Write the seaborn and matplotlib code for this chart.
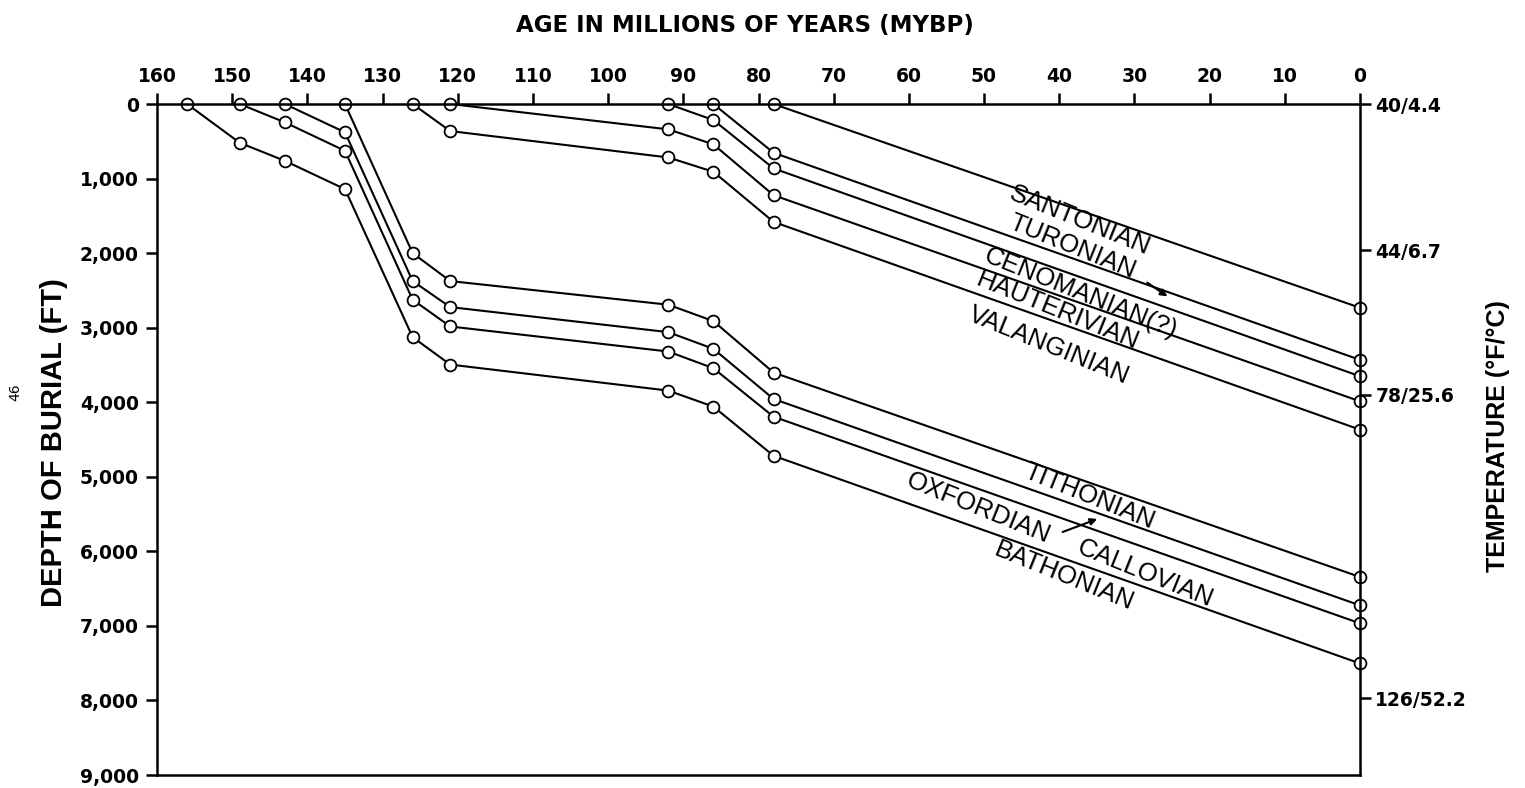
import matplotlib
matplotlib.use("Agg")
import matplotlib.pyplot as plt
import seaborn as sns
import pandas as pd

# burial history, age (MYBP) vs depth (ft) for each stage
stage_names = ["SANTONIAN", "TURONIAN", "CENOMANIAN(?)", "HAUTERIVIAN", "VALANGINIAN",
               "TITHONIAN", "OXFORDIAN", "CALLOVIAN", "BATHONIAN"]

santonian_age = [78, 0]
santonian_depth = [0, 2733]
turonian_age = [86, 78, 0]
turonian_depth = [0, 654, 3432]
cenomanian_age = [92, 86, 78, 0]
cenomanian_depth = [0, 215, 864, 3652]
hauterivian_age = [121, 92, 86, 78, 0]
hauterivian_depth = [0, 340, 541, 1223, 3988]
valanginian_age = [126, 121, 92, 86, 78, 0]
valanginian_depth = [0, 363, 717, 909, 1581, 4368]

tithonian_age = [135, 126, 121, 92, 86, 78, 0]
tithonian_depth = [0, 2000, 2375, 2692, 2912, 3602, 6344]
oxfordian_age = [143, 135, 126, 121, 92, 86, 78, 0]
oxfordian_depth = [0, 380, 2375, 2724, 3060, 3284, 3956, 6725]
callovian_age = [149, 143, 135, 126, 121, 92, 86, 78, 0]
callovian_depth = [0, 246, 628, 2625, 2984, 3320, 3544, 4194, 6966]
bathonian_age = [156, 149, 143, 135, 126, 121, 92, 86, 78, 0]
bathonian_depth = [0, 520, 762, 1142, 3127, 3495, 3844, 4059, 4718, 7504]

all_ages = [santonian_age, turonian_age, cenomanian_age, hauterivian_age, valanginian_age,
            tithonian_age, oxfordian_age, callovian_age, bathonian_age]
all_depths = [santonian_depth, turonian_depth, cenomanian_depth, hauterivian_depth,
              valanginian_depth, tithonian_depth, oxfordian_depth, callovian_depth,
              bathonian_depth]

age_ticks = list(range(160, -1, -10))
depth_ticks = list(range(0, 9001, 1000))
depth_labels = ["0"] + [f"{d:,}" for d in depth_ticks[1:]]
temp_ticks = [0, 1960, 3900, 7970]
temp_labels = ["40/4.4", "44/6.7", "78/25.6", "126/52.2"]

# label anchors (age, depth) for the stage names
label_age = [37.2, 38.2, 37.1, 40.2, 41.4, 36.0, 50.8, 28.6, 39.4]
label_depth = [1560, 1918, 2535, 2776, 3246, 5271, 5419, 6304, 6331]

rows = []
for name, ages, depths in zip(stage_names, all_ages, all_depths):
    for a, d in zip(ages, depths):
        rows.append({"stage": name, "age": a, "depth": d})
df = pd.DataFrame(rows)

sns.set_style("ticks")
plt.rcParams.update({"text.color": "black", "axes.labelcolor": "black",
                     "xtick.color": "black", "ytick.color": "black"})
fig = plt.figure(figsize=(15.25, 7.88), dpi=100)
ax = fig.add_axes([157 / 1525, 13 / 788, 1203 / 1525, 671 / 788])

sns.lineplot(data=df, x="age", y="depth", units="stage", estimator=None, sort=False,
             color="black", lw=1.5, marker="o", ms=8.5, mfc="white", mec="black",
             mew=1.3, clip_on=False, ax=ax)

ax.set_xlim(160, 0)
ax.set_ylim(9000, 0)
ax.xaxis.tick_top()
ax.set_xticks(age_ticks)
ax.set_xticklabels([str(t) for t in age_ticks], fontweight="bold", fontsize=13.5,
                   family="DejaVu Sans")
ax.set_yticks(depth_ticks)
ax.set_yticklabels(depth_labels, fontweight="bold", fontsize=13.5, family="DejaVu Sans")
ax.tick_params(axis="both", direction="out", length=8, width=1.8, pad=5, color="black")

for sp in ax.spines.values():
    sp.set_visible(True)
    sp.set_linewidth(1.8)
    sp.set_color("black")

ax.set_xlabel("AGE IN MILLIONS OF YEARS (MYBP)", fontsize=16.5, fontweight="bold",
              family="DejaVu Sans")
ax.xaxis.set_label_position("top")
ax.xaxis.set_label_coords(0.489, 1.108)
ax.set_ylabel("DEPTH OF BURIAL (FT)", fontsize=21, fontweight="bold",
              family="Liberation Sans")
ax.yaxis.set_label_coords(-0.074, 0.496)

ax2 = ax.twinx()
ax2.set_ylim(9000, 0)
ax2.set_yticks(temp_ticks)
ax2.set_yticklabels(temp_labels, fontweight="bold", fontsize=13.5, family="DejaVu Sans")
ax2.tick_params(axis="y", direction="out", length=8, width=1.8, pad=3)
for sp in ax2.spines.values():
    sp.set_visible(False)
ax2.set_ylabel("TEMPERATURE (°F/°C)", fontsize=18, fontweight="bold",
               family="Liberation Sans")
ax2.yaxis.set_label_coords(1.105, 0.505)

for name, a, d in zip(stage_names, label_age, label_depth):
    ax.text(a, d, name, rotation=-22, ha="center", va="center", rotation_mode="anchor",
            fontsize=18.5, family="Liberation Sans", color="black")

ax.annotate("", xy=(25.3, 2602), xytext=(28.6, 2374),
            arrowprops=dict(arrowstyle="-|>", lw=1.5, color="black"))
ax.annotate("", xy=(34.6, 5553), xytext=(39.9, 5754),
            arrowprops=dict(arrowstyle="-|>", lw=1.5, color="black"))

fig.text(15 / 1525, 1 - 392 / 788, "46", rotation=90, fontsize=10, ha="center",
         va="center", family="DejaVu Sans")

fig.savefig("out.png", dpi=100)
